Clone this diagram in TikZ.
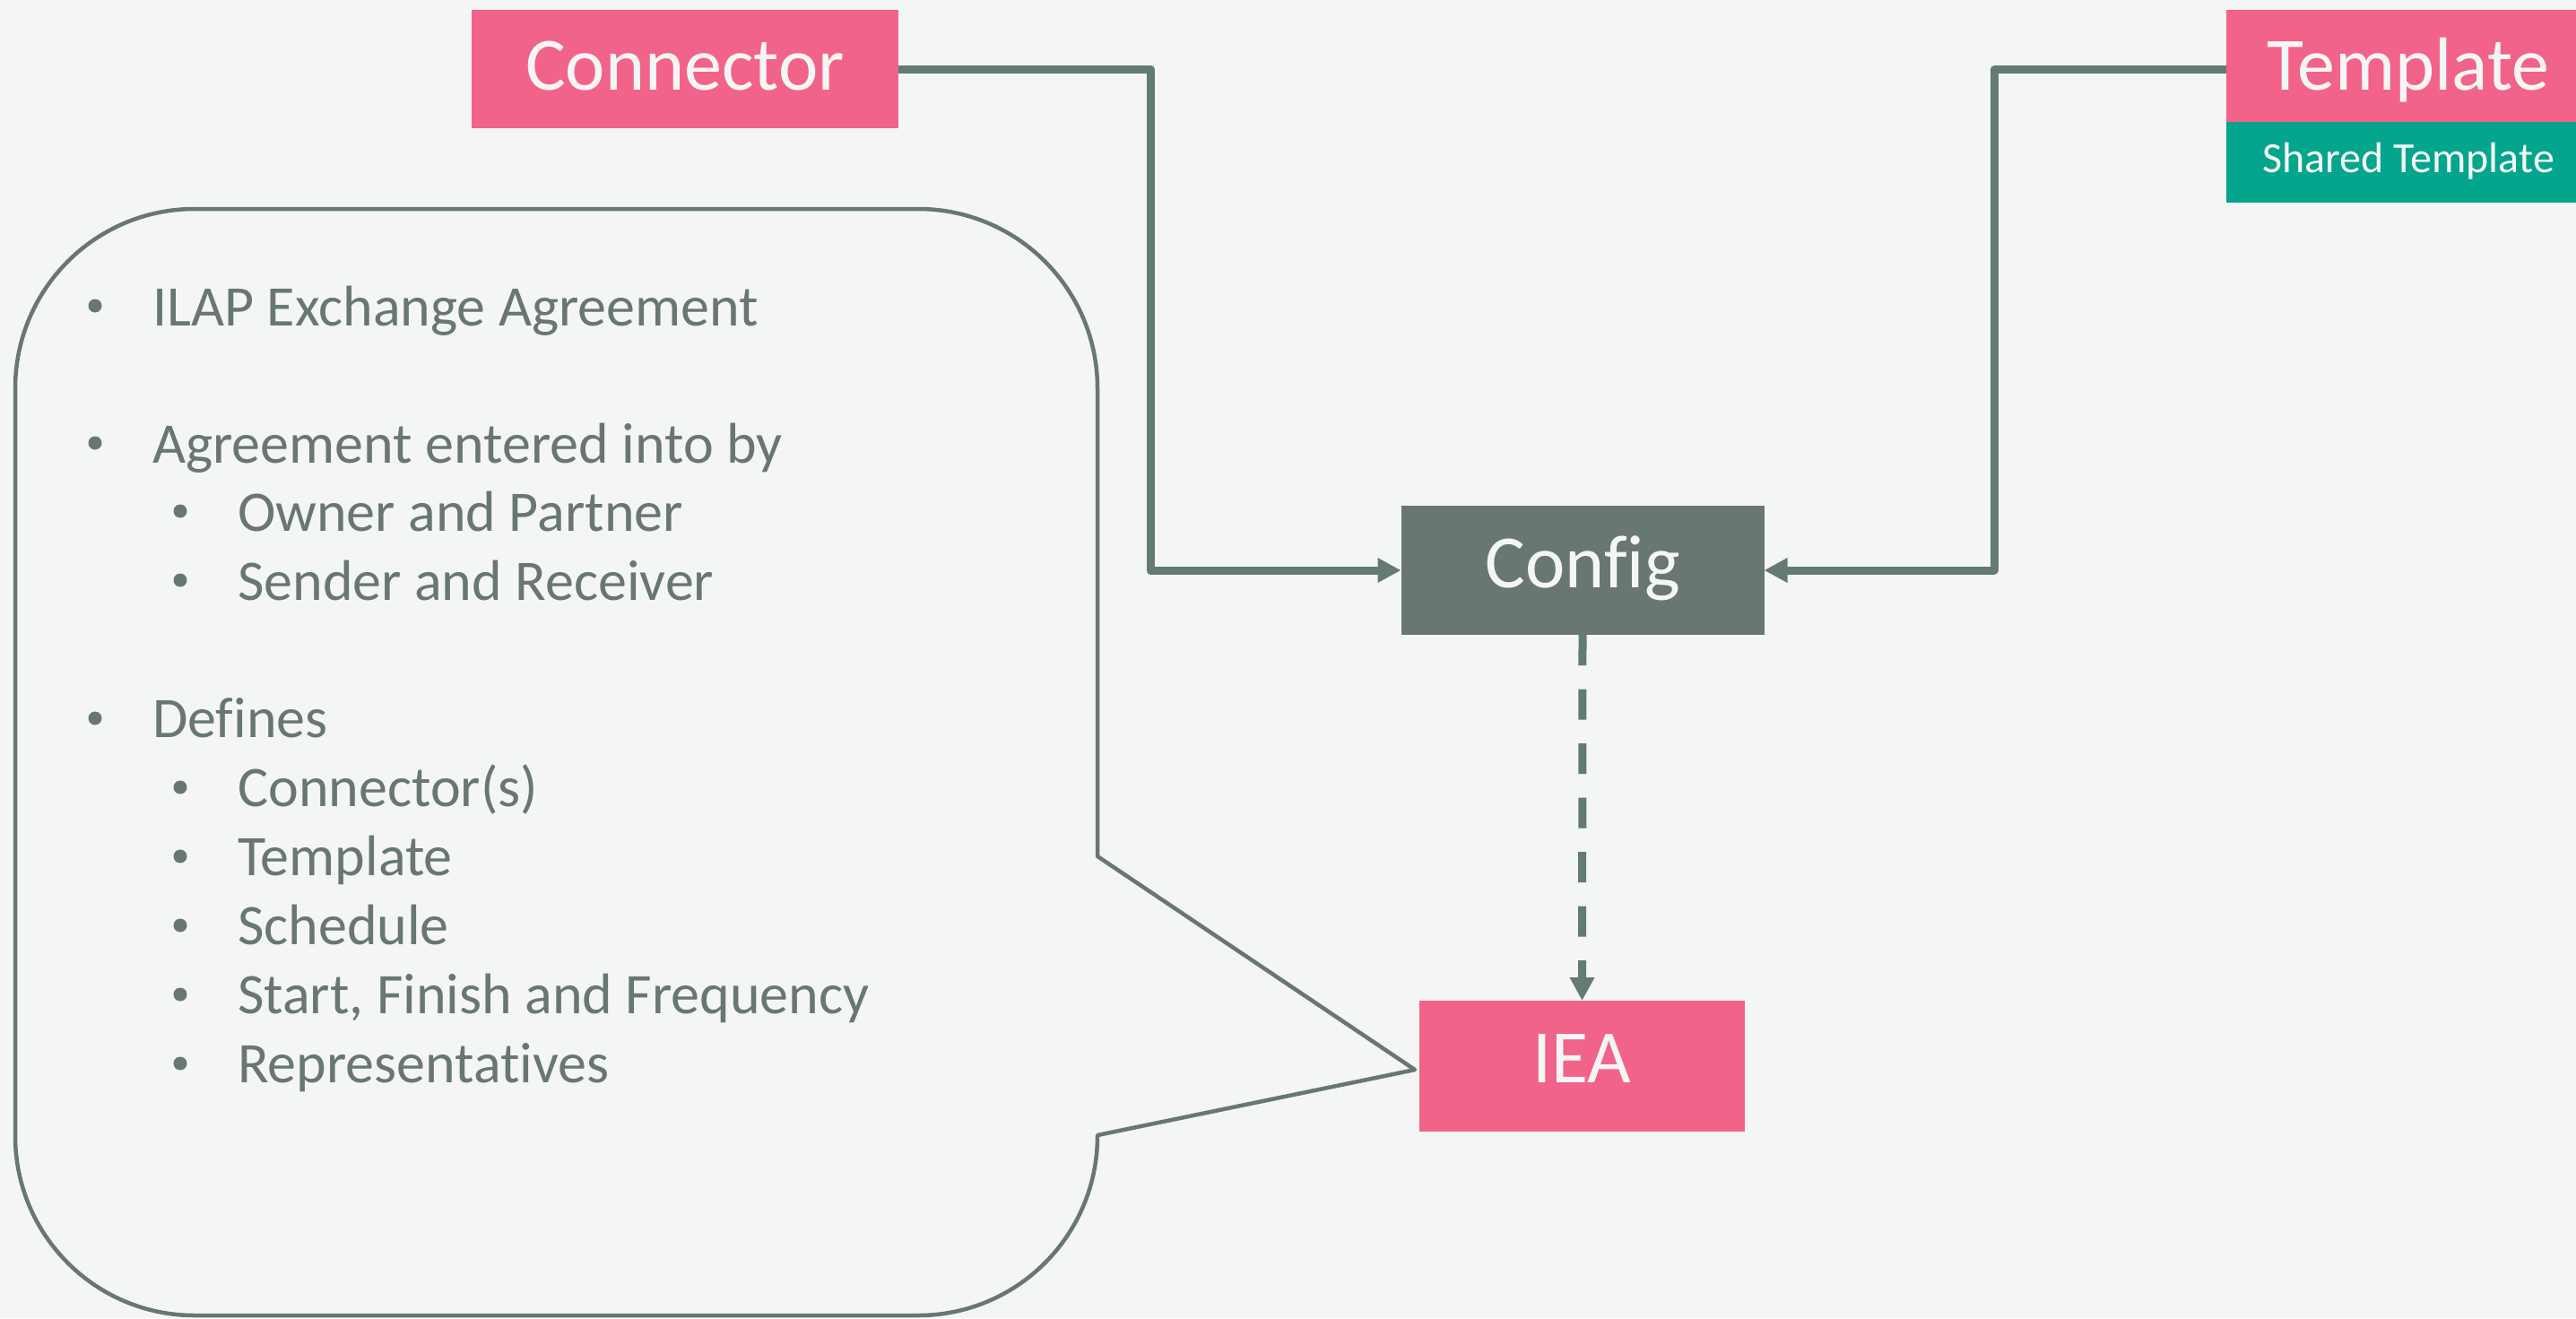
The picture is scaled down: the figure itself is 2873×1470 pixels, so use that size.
\documentclass[tikz,border=0pt]{standalone}
\usepackage{fontspec}
\setmainfont{Carlito}[Ligatures=NoCommon]
\usetikzlibrary{arrows.meta}
\definecolor{bgc}{HTML}{F4F6F5}
\definecolor{pinkc}{HTML}{F26389}
\definecolor{tealc}{HTML}{03A68C}
\definecolor{grayc}{HTML}{687674}
\definecolor{linec}{HTML}{637A75}
\begin{document}
\begin{tikzpicture}[x=1pt,y=-1pt,
  box/.style={rectangle, inner sep=0pt, outer sep=0pt, text=bgc, text depth=0pt,
     font=\fontsize{84}{90}\selectfont},
  conn/.style={draw=linec, line width=9pt, line join=round,
     -{Triangle[length=26pt,width=26pt]}},
  txt/.style={anchor=base west, inner sep=0pt, text=grayc, font=\fontsize{64}{70}\selectfont},
  dot/.style={circle, fill=grayc, inner sep=0pt, minimum size=15pt},
  callout/.style={draw=grayc, line width=4.5pt, fill=bgc, line join=round}]
\fill[bgc] (0,0) rectangle (2873,1470);
\useasboundingbox (0,0) rectangle (2873,1470);

% callout
\draw[callout] (1224,955) -- (1578,1193) -- (1224,1266) [rounded corners=200pt] -- (1224,1467) -- (17,1467) -- (17,233) -- (1224,233) [sharp corners] -- cycle;

% boxes
\node[box, fill=pinkc, minimum width=476pt, minimum height=132pt, text height=46pt] (con) at (764,77) {Connector};
\node[box, fill=pinkc, minimum width=406pt, minimum height=125pt, text height=54pt] (tpl) at (2686,73) {Template};
\node[box, fill=tealc, minimum width=406pt, minimum height=90pt, text height=22pt,
  font=\fontsize{48}{52}\selectfont] (shr) at (2686,181) {Shared Template};
\node[box, fill=grayc, minimum width=405pt, minimum height=144pt, text height=38pt] (cfg) at (1765,636) {Config};
\node[box, fill=pinkc, minimum width=363pt, minimum height=146pt, text height=36pt] (iea) at (1764.5,1189) {IEA};

\coordinate (tplin) at (2483,77);
\draw[conn] (con.east) -- (1283,77) -- (1283,636) -- (cfg.west);
\draw[conn] (tplin) -- (2224,77) -- (2224,636) -- (cfg.east);
\draw[conn, dash pattern=on 34pt off 26.5pt] (cfg.south) -- (iea.north);

% bullet list
\node[dot] (d1) at (106,341) {};
\node[txt] (t1) at (170,363) {ILAP Exchange Agreement};
\node[dot] (d2) at (106,494) {};
\node[txt] (t2) at (170,516) {Agreement entered into by};
\node[dot] (d3) at (201,570) {};
\node[txt] (t3) at (265,592) {Owner and Partner};
\node[dot] (d4) at (201,647) {};
\node[txt] (t4) at (265,669) {Sender and Receiver};
\node[dot] (d5) at (106,801) {};
\node[txt] (t5) at (170,822.5) {Defines};
\node[dot] (d6) at (201,878) {};
\node[txt] (t6) at (265,899) {Connector(s)};
\node[dot] (d7) at (201,955) {};
\node[txt] (t7) at (265,976) {Template};
\node[dot] (d8) at (201,1032) {};
\node[txt] (t8) at (265,1053) {Schedule};
\node[dot] (d9) at (201,1109) {};
\node[txt] (t9) at (265,1130) {Start, Finish and Frequency};
\node[dot] (d10) at (201,1186) {};
\node[txt] (t10) at (265,1207) {Representatives};
\end{tikzpicture}
\end{document}
